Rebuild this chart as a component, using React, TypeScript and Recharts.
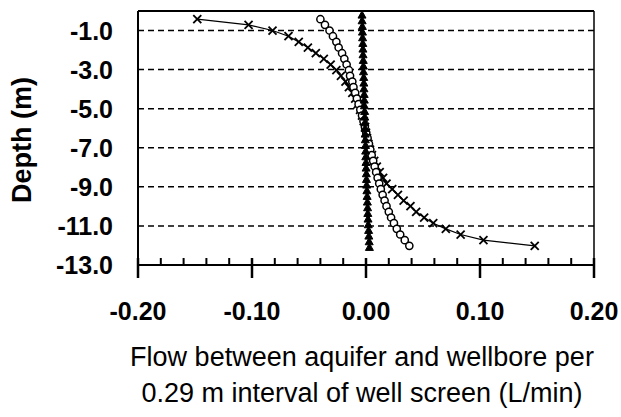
import React from "react"
import {
  ScatterChart,
  Scatter,
  XAxis,
  YAxis,
  CartesianGrid,
  ReferenceLine,
} from "recharts"

// depth of each measurement interval (m)
const depths = [
  -0.42, -0.71, -1.0, -1.29, -1.58, -1.87, -2.16, -2.45, -2.74, -3.03, -3.32,
  -3.61, -3.9, -4.19, -4.48, -4.77, -5.06, -5.35, -5.64, -5.93, -6.22, -6.51,
  -6.8, -7.09, -7.38, -7.67, -7.96, -8.25, -8.54, -8.83, -9.12, -9.41, -9.7,
  -9.99, -10.28, -10.57, -10.86, -11.15, -11.44, -11.73, -12.02,
]

const crossFlow = [
  -0.148, -0.103, -0.082, -0.068, -0.059, -0.051, -0.044, -0.037, -0.031,
  -0.026, -0.022, -0.018, -0.015, -0.012, -0.0095, -0.0072, -0.0052, -0.0035,
  -0.002, -0.0008, 0.0, 0.0009, 0.0021, 0.0035, 0.0052, 0.0072, 0.0095, 0.012,
  0.015, 0.018, 0.023, 0.028, 0.033, 0.039, 0.044, 0.051, 0.059, 0.07, 0.083,
  0.103, 0.148,
]

const circleFlow = [
  -0.04, -0.036, -0.032, -0.029, -0.026, -0.024, -0.021, -0.019, -0.017,
  -0.015, -0.014, -0.012, -0.011, -0.0095, -0.008, -0.0065, -0.005, -0.0035,
  -0.0022, -0.001, 0.0002, 0.0014, 0.0026, 0.0038, 0.005, 0.0063, 0.0076,
  0.0089, 0.0102, 0.0116, 0.013, 0.0146, 0.0163, 0.018, 0.02, 0.022, 0.0245,
  0.027, 0.03, 0.034, 0.038,
]

const triDepths = [
  -0.2, -0.49, -0.78, -1.07, -1.36, -1.65, -1.94, -2.23, -2.52, -2.81, -3.1,
  -3.39, -3.68, -3.97, -4.26, -4.55, -4.84, -5.13, -5.42, -5.71, -6.0, -6.29,
  -6.58, -6.87, -7.16, -7.45, -7.74, -8.03, -8.32, -8.61, -8.9, -9.19, -9.48,
  -9.77, -10.06, -10.35, -10.64, -10.93, -11.22, -11.51, -11.8, -12.09,
]

const triFlow = [
  -0.0035, -0.0034, -0.0032, -0.0031, -0.003, -0.0028, -0.0027, -0.0026,
  -0.0024, -0.0023, -0.0022, -0.002, -0.0019, -0.0018, -0.0016, -0.0015,
  -0.0014, -0.0012, -0.0011, -0.001, -0.0008, -0.0007, -0.0006, -0.0004,
  -0.0003, -0.0002, 0.0, 0.0001, 0.0003, 0.0004, 0.0006, 0.0008, 0.001,
  0.0012, 0.0014, 0.0016, 0.0018, 0.002, 0.0023, 0.0025, 0.0028, 0.003,
]

const xTicks = [
  -0.2, -0.18, -0.16, -0.14, -0.12, -0.1, -0.08, -0.06, -0.04, -0.02, 0, 0.02,
  0.04, 0.06, 0.08, 0.1, 0.12, 0.14, 0.16, 0.18, 0.2,
]
const yTicks = [-13, -11, -9, -7, -5, -3, -1]

const crossData = depths.map((d, i) => ({ flow: crossFlow[i], depth: d }))
const circleData = depths.map((d, i) => ({ flow: circleFlow[i], depth: d }))
const triData = triDepths.map((d, i) => ({ flow: triFlow[i], depth: d }))

const FONT = "'Liberation Sans', Arial, sans-serif"

const XTick = (props: any) => {
  const { x, y, payload } = props
  const v = payload.value
  const major = Math.abs(v * 10 - Math.round(v * 10)) < 1e-6
  return (
    <g>
      <line
        x1={x}
        x2={x}
        y1={y - 7}
        y2={major ? y + 13 : y}
        stroke="#000"
        strokeWidth={major ? 2.5 : 2}
      />
      {major && (
        <text
          x={x}
          y={y + 55}
          textAnchor="middle"
          fontFamily={FONT}
          fontWeight="bold"
          fontSize={25}
          fill="#000"
        >
          {v.toFixed(2)}
        </text>
      )}
    </g>
  )
}

const YTick = (props: any) => {
  const { x, y, payload } = props
  return (
    <text
      x={x - 25}
      y={y}
      textAnchor="end"
      dominantBaseline="central"
      fontFamily={FONT}
      fontWeight="bold"
      fontSize={25}
      fill="#000"
    >
      {payload.value.toFixed(1)}
    </text>
  )
}

const CrossMark = (props: any) => {
  const { cx, cy } = props
  const s = 4
  return (
    <g stroke="#000" strokeWidth={1.8}>
      <line x1={cx - s} y1={cy - s} x2={cx + s} y2={cy + s} />
      <line x1={cx - s} y1={cy + s} x2={cx + s} y2={cy - s} />
    </g>
  )
}

const CircleMark = (props: any) => {
  const { cx, cy } = props
  return <circle cx={cx} cy={cy} r={3.6} fill="#fff" stroke="#000" strokeWidth={1.5} />
}

const TriMark = (props: any) => {
  const { cx, cy } = props
  const s = 4
  return (
    <polygon
      points={`${cx},${cy - s} ${cx + s},${cy + s * 0.8} ${cx - s},${cy + s * 0.8}`}
      fill="#000"
      stroke="#000"
      strokeWidth={1}
    />
  )
}

export default function App() {
  return (
    <div style={{ position: "absolute", left: 0, top: 0, background: "#fff" }}>
      <ScatterChart
        width={621}
        height={417}
        margin={{ top: 11, right: 27, bottom: 0, left: 0 }}
      >
        <CartesianGrid
          horizontal
          vertical={false}
          stroke="#000"
          strokeWidth={1.5}
          strokeDasharray="6 4"
        />
        <XAxis
          type="number"
          dataKey="flow"
          domain={[-0.2, 0.2]}
          ticks={xTicks}
          interval={0}
          height={152}
          tickSize={0}
          tickMargin={0}
          tickLine={false}
          axisLine={{ stroke: "#000", strokeWidth: 2 }}
          tick={<XTick />}
          label={() => (
            <text
              textAnchor="middle"
              fontFamily={FONT}
              fontSize={27}
              fill="#000"
            >
              <tspan x={362} y={366}>
                Flow between aquifer and wellbore per
              </tspan>
              <tspan x={362} y={402}>
                0.29 m interval of well screen (L/min)
              </tspan>
            </text>
          )}
        />
        <YAxis
          type="number"
          dataKey="depth"
          domain={[-13, 0]}
          ticks={yTicks}
          interval={0}
          width={138}
          tickSize={0}
          tickMargin={0}
          tickLine={false}
          axisLine={{ stroke: "#000", strokeWidth: 2 }}
          tick={<YTick />}
          label={() => (
            <text
              x={22}
              y={140}
              transform="rotate(-90 22 140)"
              textAnchor="middle"
              dominantBaseline="central"
              fontFamily={FONT}
              fontWeight="bold"
              fontSize={27}
              fill="#000"
            >
              Depth (m)
            </text>
          )}
        />
        <ReferenceLine y={0} stroke="#000" strokeWidth={2} />
        <ReferenceLine x={0.2} stroke="#000" strokeWidth={1.5} />
        <Scatter
          data={crossData}
          shape={<CrossMark />}
          line={{ stroke: "#000", strokeWidth: 1.2 }}
          isAnimationActive={false}
        />
        <Scatter
          data={circleData}
          shape={<CircleMark />}
          line={{ stroke: "#000", strokeWidth: 1.2 }}
          isAnimationActive={false}
        />
        <Scatter
          data={triData}
          shape={<TriMark />}
          line={{ stroke: "#000", strokeWidth: 1.2 }}
          isAnimationActive={false}
        />
      </ScatterChart>
    </div>
  )
}
